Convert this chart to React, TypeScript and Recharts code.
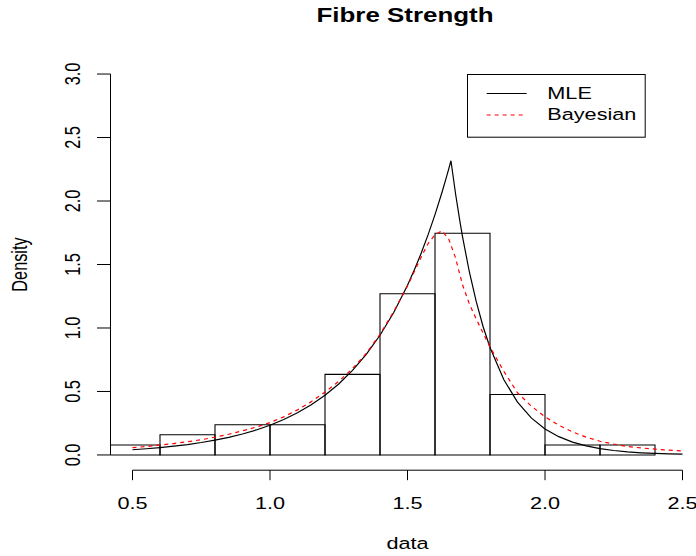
import {
  ComposedChart,
  Legend,
  Line,
  ReferenceArea,
  ReferenceLine,
  XAxis,
  YAxis,
} from "recharts";

// histogram of the fibre strength sample (density scale, bin width 0.2)
const binStart = [0.4, 0.6, 0.8, 1.0, 1.2, 1.4, 1.6, 1.8, 2.0, 2.2];
const binEnd = [0.6, 0.8, 1.0, 1.2, 1.4, 1.6, 1.8, 2.0, 2.2, 2.4];
const binDensity = [0.079, 0.159, 0.238, 0.238, 0.635, 1.27, 1.746, 0.476, 0.079, 0.079];

// fitted densities
const mleX = [
  0.5, 0.55, 0.6, 0.65, 0.7, 0.75, 0.8, 0.85, 0.9, 0.95, 1.0, 1.05, 1.1, 1.15,
  1.2, 1.25, 1.3, 1.35, 1.4, 1.45, 1.5, 1.525, 1.55, 1.575, 1.6, 1.625, 1.64,
  1.65, 1.658, 1.675, 1.69, 1.7, 1.725, 1.75, 1.775, 1.8, 1.85, 1.9, 1.95, 2.0,
  2.05, 2.1, 2.15, 2.2, 2.25, 2.3, 2.35, 2.4, 2.45, 2.5,
];
const mleY = [
  0.041, 0.049, 0.058, 0.069, 0.082, 0.098, 0.117, 0.139, 0.165, 0.197, 0.234,
  0.279, 0.332, 0.395, 0.47, 0.559, 0.666, 0.792, 0.943, 1.122, 1.336, 1.458,
  1.59, 1.735, 1.893, 2.065, 2.176, 2.253, 2.317, 2.053, 1.847, 1.72, 1.441,
  1.207, 1.01, 0.846, 0.594, 0.416, 0.292, 0.205, 0.144, 0.101, 0.071, 0.05,
  0.035, 0.024, 0.017, 0.012, 0.008, 0.006,
];

const bayesX = [
  0.5, 0.55, 0.6, 0.65, 0.7, 0.75, 0.8, 0.85, 0.9, 0.95, 1.0, 1.05, 1.1, 1.15,
  1.2, 1.25, 1.3, 1.35, 1.4, 1.45, 1.5, 1.55, 1.575, 1.6, 1.625, 1.65, 1.675,
  1.7, 1.725, 1.75, 1.8, 1.85, 1.9, 1.95, 2.0, 2.05, 2.1, 2.15, 2.2, 2.25, 2.3,
  2.35, 2.4, 2.45, 2.5,
];
const bayesY = [
  0.058, 0.066, 0.078, 0.09, 0.104, 0.12, 0.14, 0.163, 0.19, 0.22, 0.255, 0.3,
  0.355, 0.42, 0.495, 0.58, 0.68, 0.8, 0.95, 1.13, 1.33, 1.56, 1.665, 1.735,
  1.766, 1.7, 1.55, 1.34, 1.19, 1.07, 0.85, 0.66, 0.49, 0.385, 0.3, 0.235,
  0.182, 0.14, 0.108, 0.085, 0.067, 0.055, 0.046, 0.038, 0.031,
];

const xTicks = [0.5, 1.0, 1.5, 2.0, 2.5];
const yTicks = [0, 0.5, 1.0, 1.5, 2.0, 2.5, 3.0];
const legendOrder = ["MLE", "Bayesian"];

const mleData = mleX.map((x, i) => ({ x, y: mleY[i] }));
const bayesData = bayesX.map((x, i) => ({ x, y: bayesY[i] }));

const FONT = '"Liberation Sans", Arial, Helvetica, sans-serif';
// the reference is horizontally stretched, text included
const SX = 1.33;

function XTick({ x, y, payload }: any) {
  return (
    <g>
      <line x1={x} x2={x} y1={y} y2={y + 10} stroke="#000" />
      <text
        transform={`translate(${x},${y + 38.5}) scale(${SX},1)`}
        textAnchor="middle"
        fontSize={16.3}
        fontFamily={FONT}
        fill="#000"
      >
        {Number(payload.value).toFixed(1)}
      </text>
    </g>
  );
}

function YTick({ x, y, payload }: any) {
  return (
    <g>
      <line x1={x - 13.5} x2={x} y1={y} y2={y} stroke="#000" />
      <text
        transform={`translate(${x - 31},${y}) scale(${SX},1) rotate(-90)`}
        textAnchor="middle"
        fontSize={16.3}
        fontFamily={FONT}
        fill="#000"
      >
        {Number(payload.value).toFixed(1)}
      </text>
    </g>
  );
}

function LegendBox({ payload }: any) {
  const items = [...(payload ?? [])].sort(
    (a: any, b: any) => legendOrder.indexOf(a.value) - legendOrder.indexOf(b.value)
  );
  return (
    <svg width={180} height={64} style={{ display: "block" }}>
      <rect x={0.5} y={0.5} width={177.7} height={62.7} fill="#fff" stroke="#000" />
      {items.map((entry: any, i: number) => {
        const ly = 19.5 + i * 21.5;
        const dash = entry.payload?.strokeDasharray;
        return (
          <g key={entry.value}>
            <line
              x1={19.7}
              x2={59.7}
              y1={ly}
              y2={ly}
              stroke={entry.color}
              strokeDasharray={dash}
            />
            <text
              transform={`translate(80.3,${ly + 5}) scale(${SX},1)`}
              fontSize={16.3}
              fontFamily={FONT}
              fill="#000"
            >
              {entry.value}
            </text>
          </g>
        );
      })}
    </svg>
  );
}

export default function App() {
  return (
    <div
      style={{
        position: "absolute",
        left: 0,
        top: 0,
        width: 696,
        height: 556,
        overflow: "hidden",
        background: "#fff",
      }}
    >
      <ComposedChart
        width={720}
        height={556}
        margin={{ top: 58.8, right: 15.5, bottom: 55.8, left: 50.5 }}
      >
        <XAxis
          type="number"
          dataKey="x"
          domain={[0.42, 2.58]}
          ticks={xTicks}
          interval={0}
          allowDataOverflow
          height={30}
          axisLine={false}
          tickLine={false}
          tickSize={0}
          tickMargin={0}
          tick={<XTick />}
        />
        <YAxis
          type="number"
          domain={[-0.12, 3.12]}
          ticks={yTicks}
          interval={0}
          allowDataOverflow
          width={60}
          axisLine={false}
          tickLine={false}
          tickSize={0}
          tickMargin={0}
          tick={<YTick />}
        />
        <ReferenceLine
          segment={[
            { x: 0.5, y: -0.12 },
            { x: 2.5, y: -0.12 },
          ]}
          stroke="#000"
          ifOverflow="visible"
        />
        <ReferenceLine
          segment={[
            { x: 0.42, y: 0 },
            { x: 0.42, y: 3 },
          ]}
          stroke="#000"
          ifOverflow="visible"
        />
        {binStart.map((s, i) => (
          <ReferenceArea
            key={s}
            x1={s}
            x2={binEnd[i]}
            y1={0}
            y2={binDensity[i]}
            stroke="#000"
            strokeWidth={1.1}
            fill="none"
            fillOpacity={0}
            ifOverflow="hidden"
          />
        ))}
        <Line
          data={mleData}
          dataKey="y"
          name="MLE"
          type="linear"
          stroke="#000"
          strokeWidth={1.2}
          dot={false}
          activeDot={false}
          isAnimationActive={false}
        />
        <Line
          data={bayesData}
          dataKey="y"
          name="Bayesian"
          type="linear"
          stroke="#ff0000"
          strokeWidth={1.2}
          strokeDasharray="4 4"
          dot={false}
          activeDot={false}
          isAnimationActive={false}
        />
        <Legend
          layout="horizontal"
          verticalAlign="middle"
          align="center"
          content={<LegendBox />}
          wrapperStyle={{ left: 467, top: 74, width: 180, height: 64 }}
        />
      </ComposedChart>
      <svg
        width={696}
        height={556}
        style={{ position: "absolute", left: 0, top: 0, pointerEvents: "none" }}
      >
        <text
          transform={`translate(405,22) scale(${SX},1)`}
          textAnchor="middle"
          fontSize={19.5}
          fontWeight="bold"
          fontFamily={FONT}
          fill="#000"
        >
          Fibre Strength
        </text>
        <text
          transform={`translate(407.5,549) scale(${SX},1)`}
          textAnchor="middle"
          fontSize={16.3}
          fontFamily={FONT}
          fill="#000"
        >
          data
        </text>
        <text
          transform={`translate(26.7,264.5) scale(${SX},1) rotate(-90)`}
          textAnchor="middle"
          fontSize={16.3}
          fontFamily={FONT}
          fill="#000"
        >
          Density
        </text>
      </svg>
    </div>
  );
}
